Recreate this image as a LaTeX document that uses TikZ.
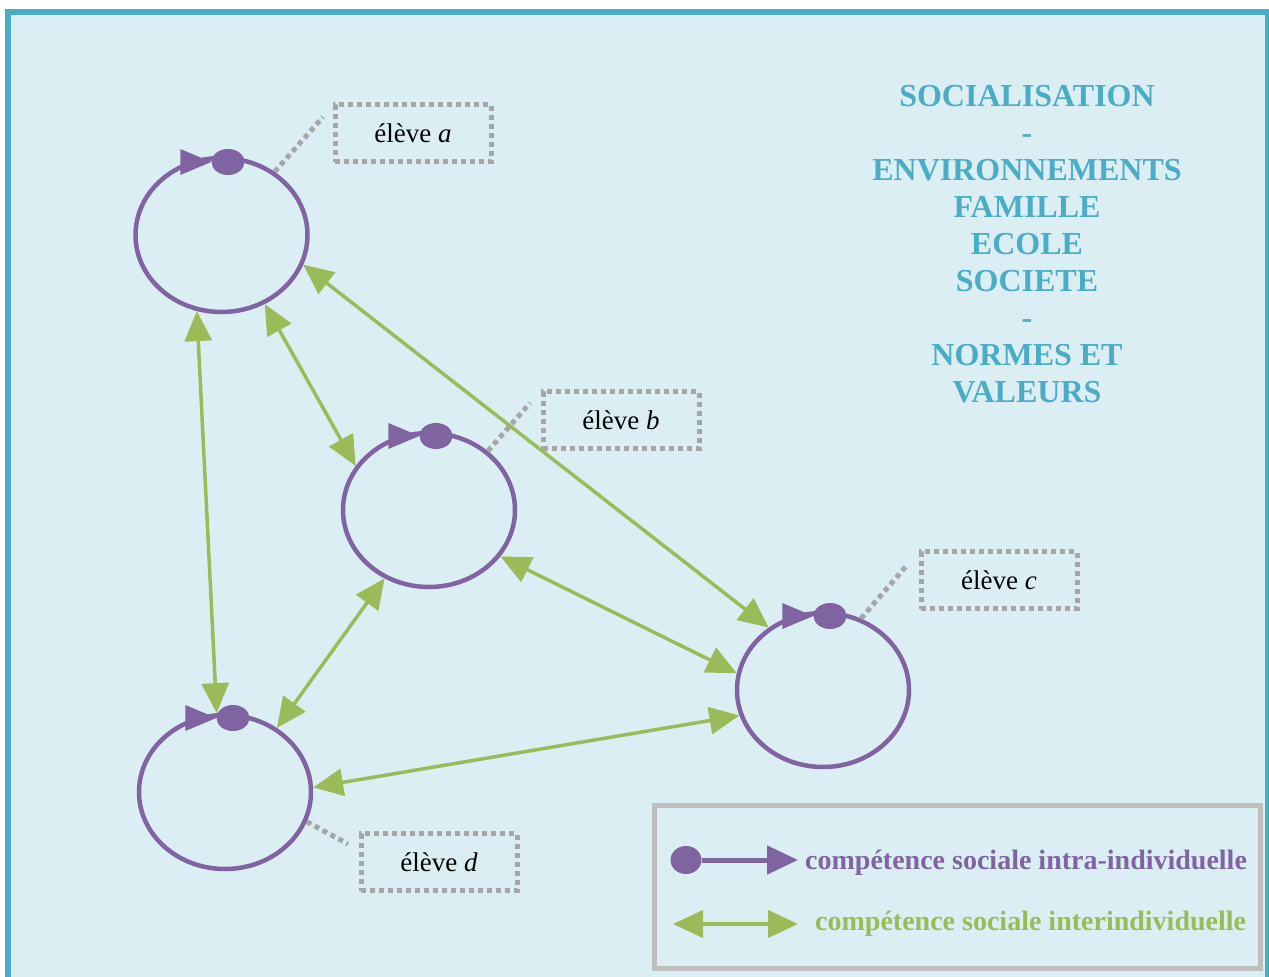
\documentclass[tikz,border=0pt]{standalone}
\usepackage{fontspec}
\setmainfont{Liberation Serif}
\usetikzlibrary{arrows.meta,shapes.geometric,calc}
\definecolor{teal5}{HTML}{4BACC6}
\definecolor{framefill}{HTML}{DAEEF3}
\definecolor{purp}{HTML}{8064A2}
\definecolor{grn}{HTML}{9BBB59}
\definecolor{gry}{HTML}{A6A6A6}
\definecolor{lgray}{HTML}{BFBFBF}
\begin{document}
\begin{tikzpicture}[x=1pt,y=-1pt,
  eleve/.style={ellipse,draw=purp,line width=4.5pt,minimum width=172pt,minimum height=154pt,inner sep=0pt},
  pdot/.style={ellipse,fill=purp,minimum width=33pt,minimum height=26pt,inner sep=0pt},
  link/.style={draw=grn,line width=3.5pt,{Triangle[length=30pt,width=27pt]}-{Triangle[length=30pt,width=27pt]}},
  lead/.style={draw=gry,line width=5pt,dash pattern=on 5pt off 4pt},
  lbl/.style={lead,minimum width=156pt,minimum height=57pt,inner sep=0pt,font=\fontsize{27}{30}\selectfont},
  ttl/.style={text=teal5,font=\fontsize{32}{37}\selectfont\bfseries,anchor=base,inner sep=0pt},
  legtext/.style={anchor=base west,inner sep=0pt,font=\fontsize{28}{32}\selectfont\bfseries}]
\useasboundingbox (0,0) rectangle (1269,977);
\clip (0,0) rectangle (1269,977);
\fill[white] (0,0) rectangle (1269,977);
\draw[draw=teal5,fill=framefill,line width=6pt] (8,12) rectangle (1268,1010);

% students
\node[eleve] (a) at (221.5,235) {};
\node[eleve] (b) at (429,510) {};
\node[eleve] (c) at (823,690) {};
\node[eleve] (d) at (225,792) {};

% intra-individual markers
\node[pdot] (adot) at (228,162) {};
\node[pdot] (bdot) at (436,436) {};
\node[pdot] (cdot) at (830,616) {};
\node[pdot] (ddot) at (233,718) {};
\foreach \n in {adot,bdot,cdot,ddot}
  \fill[purp] (\n.west) -- ++(-31,-13) -- ++(0,26) -- cycle;

% interindividual links
\draw[link] (a.-20) -- (c.131);
\draw[link] (a.-58) -- (b.149);
\draw[link] (a.-108) -- (d.96);
\draw[link] (b.-123) -- (d.51);
\draw[link] (b.-33) -- (c.169);
\draw[link] (c.-163) -- (d.3);

% labels
\node[lbl] (la) at (413,133) {élève \textit{a}};
\node[lbl] (lb) at (621,420) {élève \textit{b}};
\node[lbl] (lc) at (999,580) {élève \textit{c}};
\node[lbl] (ld) at (439,862) {élève \textit{d}};
\coordinate (pa) at (323,117);
\coordinate (pb) at (530,403);
\coordinate (pc) at (908,564);
\coordinate (pd) at (348,844);
\draw[lead] (a.50) -- (pa);
\draw[lead] (b.45) -- (pb);
\draw[lead] (c.62) -- (pc);
\draw[lead] (d.-20) -- (pd);

% title
\foreach \t [count=\i] in {SOCIALISATION,-,ENVIRONNEMENTS,FAMILLE,ECOLE,SOCIETE,-,NORMES ET,VALEURS}
  \node[ttl] (t\i) at (1027,{106+37*(\i-1)}) {\t};

% legend
\node[draw=lgray,line width=5pt,minimum width=606pt,minimum height=163pt,inner sep=0pt] (leg) at (957,886.5) {};
\node[pdot,minimum width=31pt,minimum height=28pt] (ldot) at (686,860) {};
\coordinate (lend) at (798,860);
\draw[purp,line width=5pt,-{Triangle[length=31pt,width=28pt]}] (ldot) -- (lend);
\node[legtext,text=purp] (lt1) at (805,869) {compétence sociale intra-individuelle};
\coordinate (g1) at (673,924);
\coordinate (g2) at (798,924);
\draw[link,line width=4pt] (g1) -- (g2);
\node[legtext,text=grn] (lt2) at (815,930) {compétence sociale interindividuelle};
\end{tikzpicture}
\end{document}
